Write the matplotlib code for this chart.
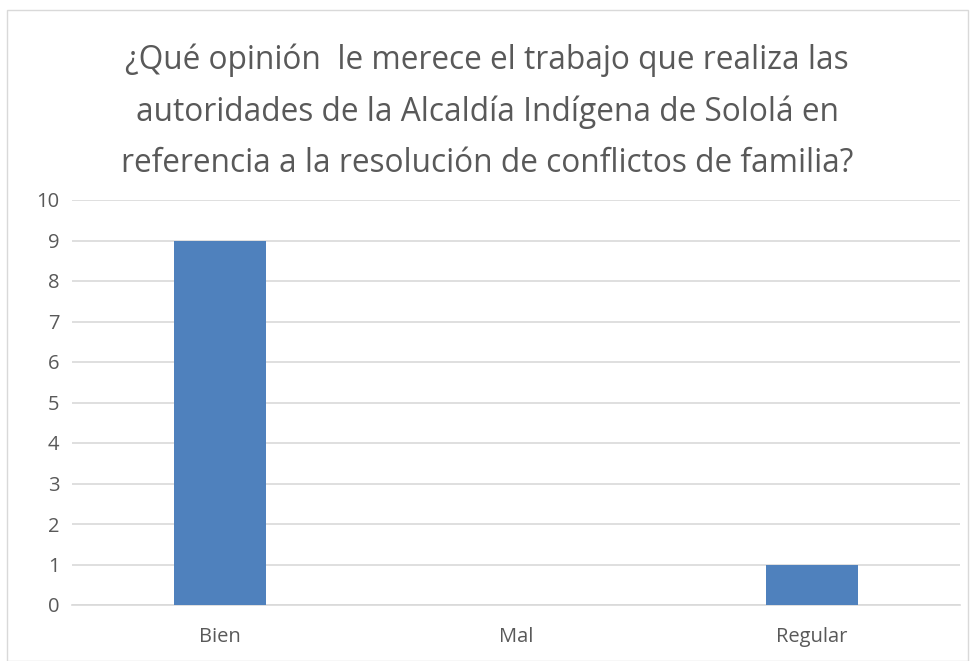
import matplotlib
matplotlib.use("Agg")
import matplotlib.pyplot as plt
from matplotlib.patches import Rectangle

categories = ["Bien", "Mal", "Regular"]
values = [9, 0, 1]
yticks = list(range(0, 11))
title = ("¿Qué opinión  le merece el trabajo que realiza las\n"
         "autoridades de la Alcaldía Indígena de Sololá en\n"
         "referencia a la resolución de conflictos de familia?")

plt.rcParams['font.family'] = ['Open Sans', 'DejaVu Sans']

fig = plt.figure(figsize=(9.76, 6.61), dpi=100)
fig.patches.append(Rectangle((7/976, 0), (968-7)/976, 1-10/661, transform=fig.transFigure,
                             fill=False, edgecolor='#d9d9d9', linewidth=1))
ax = fig.add_axes([72/976, 1-605/661, (960-72)/976, (605-200)/661])

x = list(range(len(categories)))
ax.bar(x, values, width=0.31, color='#4f81bd', zorder=3)
ax.set_xlim(-0.5, 2.5)
ax.set_ylim(0, 10)
ax.set_yticks(yticks)
ax.set_xticks(x)
ax.set_xticklabels(categories)
ax.yaxis.grid(True, color='#d9d9d9', linewidth=1.2, zorder=0)
for s in ['top', 'right', 'left']:
    ax.spines[s].set_visible(False)
ax.spines['bottom'].set_color('#d9d9d9')
ax.spines['bottom'].set_linewidth(1.2)
ax.tick_params(axis='both', length=0, labelsize=14.5, colors='#595959')
ax.tick_params(axis='y', pad=9)
ax.tick_params(axis='x', pad=16)

fig.text(0.499, 1-112/661, title, ha='center', va='center', fontsize=22.8,
         color='#595959', linespacing=1.72)

fig.savefig("out.png", dpi=100)
